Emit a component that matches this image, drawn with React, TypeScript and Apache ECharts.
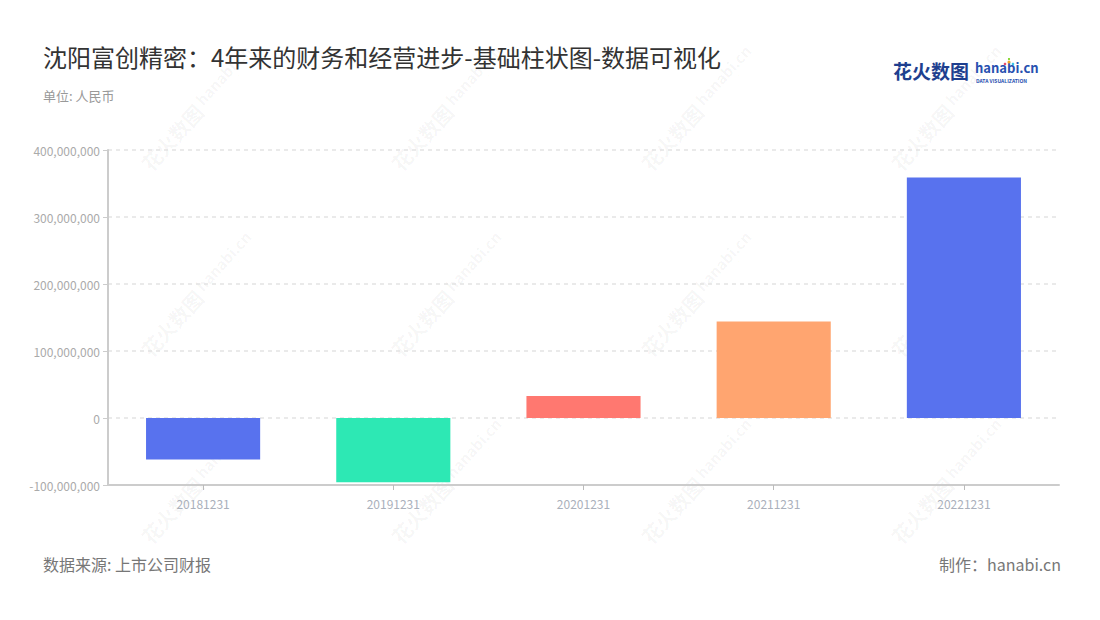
import React, { useEffect, useRef } from "react";
import * as echarts from "echarts";

const categories = ["20181231", "20191231", "20201231", "20211231", "20221231"];
const values = [-62000000, -96000000, 33000000, 144000000, 359000000];
const barColors = ["#5872EE", "#2DE8B4", "#FF7870", "#FFA570", "#5872EE"];
const yTicks = { min: -100000000, max: 400000000, interval: 100000000 };
const wmCols = [184, 434, 684, 934];
const wmRows = [124, 310, 497];

const FONT = '"Noto Sans CJK SC", "Noto Sans", sans-serif';
const WM = "rgba(0,0,0,0.045)";

function fmt(v: number): string {
  const s = Math.abs(v).toString().replace(/\B(?=(\d{3})+(?!\d))/g, ",");
  return (v < 0 ? "-" : "") + s;
}

export default function App() {
  const ref = useRef<HTMLDivElement>(null);
  useEffect(() => {
    if (!ref.current) return;
    const chart = echarts.init(ref.current, undefined, { renderer: "svg" });

    const watermarks: any[] = [];
    wmRows.forEach((y) =>
      wmCols.forEach((x) => {
        watermarks.push({
          type: "group",
          x,
          y,
          rotation: Math.PI / 4 + 0.05,
          silent: true,
          z: -10,
          children: [
            {
              type: "text",
              x: -58,
              y: 0,
              style: {
                text: "花火数图",
                font: `bold 20px ${FONT}`,
                fill: WM,
                textAlign: "left",
                textVerticalAlign: "middle",
              },
            },
            {
              type: "text",
              x: 26,
              y: -4,
              style: {
                text: "hanabi.cn",
                font: `bold 15px ${FONT}`,
                fill: WM,
                textAlign: "left",
                textVerticalAlign: "middle",
              },
            },
            {
              type: "text",
              x: 27,
              y: 8,
              style: {
                text: "DATA VISUALIZATION",
                font: `5px ${FONT}`,
                fill: WM,
                textAlign: "left",
                textVerticalAlign: "middle",
              },
            },
          ],
        });
      })
    );

    chart.setOption({
      animation: false,
      backgroundColor: "#fff",
      textStyle: { fontFamily: FONT },
      title: [
        {
          text: "沈阳富创精密：4年来的财务和经营进步-基础柱状图-数据可视化",
          left: 38,
          top: 39,
          textStyle: { fontSize: 24, fontWeight: "normal", color: "#333", fontFamily: FONT },
        },
        {
          text: "单位: 人民币",
          left: 38,
          top: 84,
          textStyle: { fontSize: 13, fontWeight: "normal", color: "#999", fontFamily: FONT },
        },
      ],
      graphic: [
        ...watermarks,
        {
          type: "text",
          left: 43,
          top: 556,
          style: { text: "数据来源: 上市公司财报", font: `16px ${FONT}`, fill: "#777" },
        },
        {
          type: "text",
          right: 39,
          top: 556,
          style: { text: "制作：hanabi.cn", font: `16px ${FONT}`, fill: "#777" },
        },
        {
          type: "text",
          left: 893,
          top: 61,
          style: { text: "花火数图", font: `bold 19px ${FONT}`, fill: "#1E3F8F" },
        },
        {
          type: "text",
          left: 975,
          top: 61,
          style: { text: "hanabi.cn", font: `bold 13px ${FONT}`, fill: "#2750B0" },
        },
        {
          type: "text",
          left: 976,
          top: 78,
          style: { text: "DATA VISUALIZATION", font: `bold 5px ${FONT}`, fill: "#2750B0" },
        },
        { type: "circle", shape: { cx: 1009, cy: 62, r: 1.5 }, style: { fill: "#F5A623" } },
        { type: "circle", shape: { cx: 1005, cy: 64, r: 1.3 }, style: { fill: "#E94B6A" } },
        { type: "circle", shape: { cx: 1013, cy: 64, r: 1.3 }, style: { fill: "#3CC5E8" } },
        { type: "circle", shape: { cx: 1009, cy: 59, r: 1.1 }, style: { fill: "#7ED321" } },
      ],
      grid: { left: 108, right: 41, top: 150, bottom: 135, containLabel: false },
      xAxis: {
        type: "category",
        data: categories,
        axisLine: { show: true, onZero: false, lineStyle: { color: "#ccc", width: 2 } },
        axisTick: { show: true, alignWithLabel: true, lineStyle: { color: "#bbb" } },
        axisLabel: { color: "#aab0bb", fontSize: 12, margin: 12, fontFamily: FONT },
        splitLine: { show: false },
      },
      yAxis: {
        type: "value",
        min: yTicks.min,
        max: yTicks.max,
        interval: yTicks.interval,
        axisLine: { show: true, lineStyle: { color: "#ccc", width: 2 } },
        axisTick: { show: true, length: 5, lineStyle: { color: "#ccc" } },
        axisLabel: { color: "#aaa", fontSize: 12, margin: 8, formatter: (v: number) => fmt(v), fontFamily: FONT },
        splitLine: { show: true, lineStyle: { color: "#e3e3e3", type: [4, 4], width: 1.5 } },
      },
      series: [
        {
          type: "bar",
          barWidth: "60%",
          data: values.map((v, i) => ({ value: v, itemStyle: { color: barColors[i] } })),
        },
      ],
    });
    return () => chart.dispose();
  }, []);
  return (
    <div
      ref={ref}
      style={{ position: "fixed", left: 0, top: 0, width: 1100, height: 620 }}
    />
  );
}
